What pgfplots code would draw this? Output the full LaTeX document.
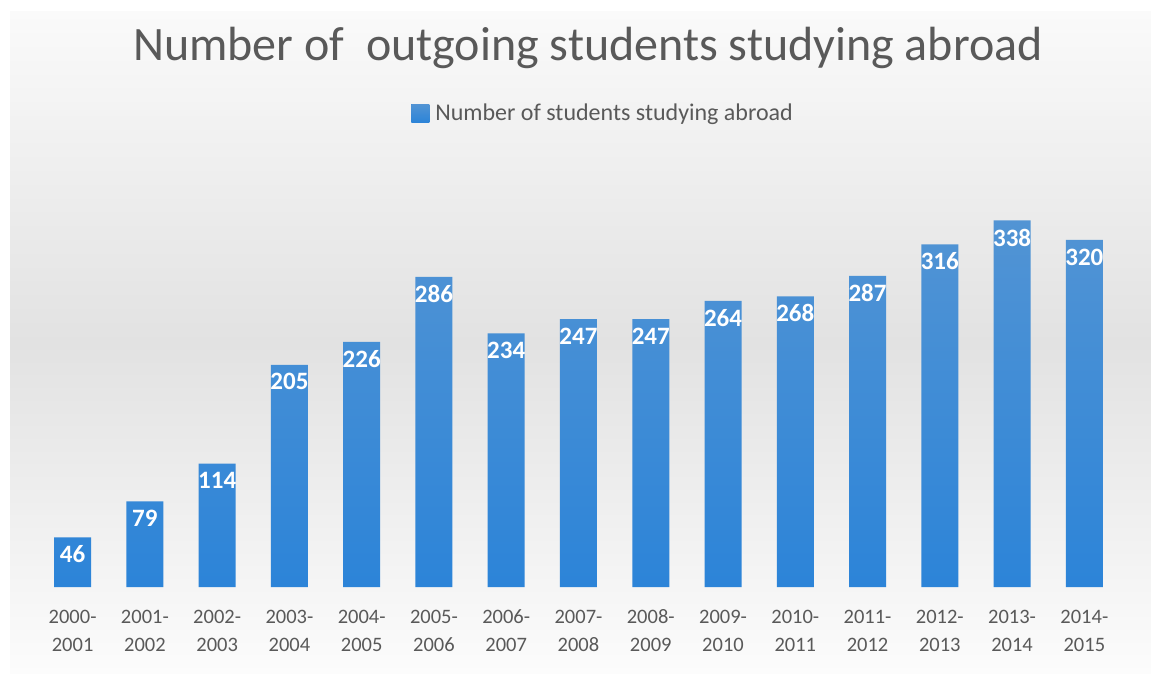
\documentclass[border=0pt]{standalone}
\usepackage{pgfplots}
\pgfplotsset{compat=1.18}
\usepackage{fontspec}
\setmainfont{Carlito}
\definecolor{bartop}{RGB}{82,148,212}
\definecolor{barbot}{RGB}{44,132,216}
\definecolor{bgtop}{RGB}{250,250,250}
\definecolor{bgmid}{RGB}{226,226,226}
\definecolor{bgbot}{RGB}{252,252,252}
\definecolor{txt}{RGB}{89,89,89}
\newcommand{\yl}[2]{\begin{tabular}{@{}c@{}}#1-\\#2\end{tabular}}
\begin{document}
\begin{tikzpicture}[x=1pt,y=1pt]
\fill[white] (0,0) rectangle (1151,674);
\shade[top color=bgtop, bottom color=bgbot, middle color=bgmid, shading angle=0] (10,0) rectangle (1151,662);
\node[text=txt, font=\fontsize{48}{56}\selectfont, anchor=base, inner sep=0pt] at (588,613) {Number of \ outgoing students studying abroad};
\begin{axis}[
  at={(50.5,80)}, anchor=south west,
  scale only axis, width=1084pt, height=434pt,
  xmin=-0.5, xmax=14.5, ymin=0, ymax=400,
  axis line style={draw=none}, tick style={draw=none},
  ytick=\empty,
  xtick={0,...,14},
  xticklabels={\yl{2000}{2001},\yl{2001}{2002},\yl{2002}{2003},\yl{2003}{2004},\yl{2004}{2005},\yl{2005}{2006},\yl{2006}{2007},\yl{2007}{2008},\yl{2008}{2009},\yl{2009}{2010},\yl{2010}{2011},\yl{2011}{2012},\yl{2012}{2013},\yl{2013}{2014},\yl{2014}{2015}},
  xticklabel style={anchor=north, text=txt, font=\fontsize{20.5}{28}\selectfont, yshift=-9pt},
  ybar, bar width=37pt,
  nodes near coords={\pgfmathprintnumber[assume math mode=true]{\pgfplotspointmeta}},
  every node near coord/.append style={anchor=center, yshift=-17pt, text=white, font=\bfseries\fontsize{25}{28}\selectfont},
  legend style={at={(0.5227,1.092)}, anchor=center, draw=none, fill=none, font=\fontsize{24}{28}\selectfont, text=txt, inner sep=0pt},
  legend image code/.code={\fill[barbot] (0pt,-9pt) rectangle (18pt,9pt); \path (22pt,0pt);},
  legend cell align=left,
]
\addplot[draw=none, top color=bartop, bottom color=barbot] coordinates {
(0,46) (1,79) (2,114) (3,205) (4,226) (5,286) (6,234) (7,247) (8,247) (9,264) (10,268) (11,287) (12,316) (13,338) (14,320)};
\addlegendentry{Number of students studying abroad}
\end{axis}
\end{tikzpicture}
\end{document}
